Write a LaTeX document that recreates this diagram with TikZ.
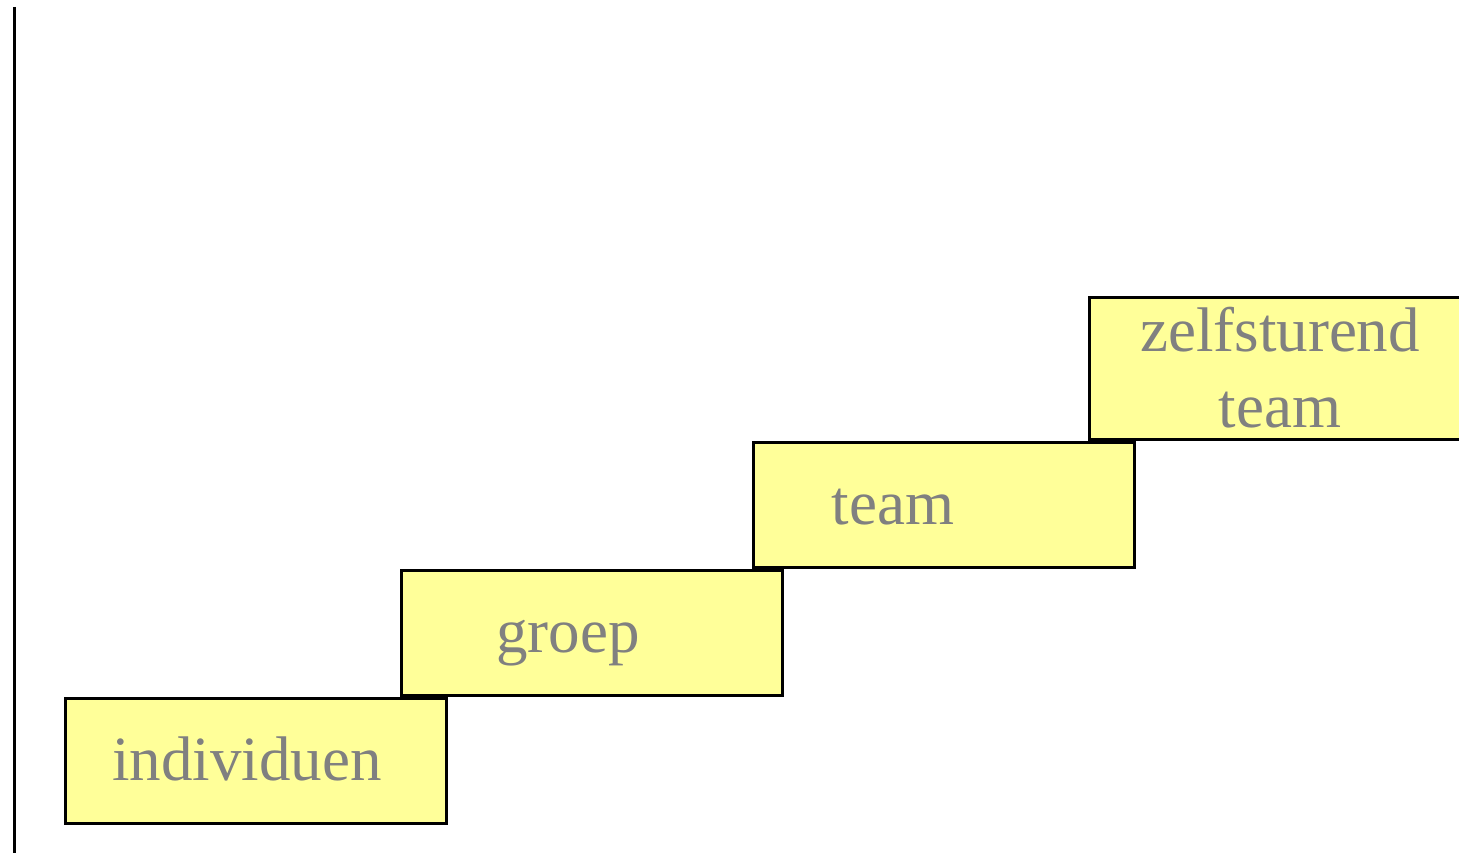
\documentclass[tikz,border=0pt]{standalone}
\usepackage{fontspec}
\setmainfont{Liberation Serif}
\definecolor{boxfill}{HTML}{FFFF99}
\definecolor{txtgray}{HTML}{808080}
\begin{document}
\begin{tikzpicture}[x=1pt,y=-1pt,
  stepbox/.style={draw=black,line width=3pt,fill=boxfill,rectangle,inner sep=0pt,anchor=north west},
  label/.style={text=txtgray,font=\fontsize{63}{76}\selectfont,anchor=base,inner sep=0pt}]
\useasboundingbox (0,0) rectangle (1459,853);
\fill[white] (0,0) rectangle (1459,853);
\draw[line width=3pt] (14.5,7) coordinate (axtop) -- (14.5,853) coordinate (axbot);
\node[stepbox,minimum width=381pt,minimum height=125pt] (b1) at (64,697) {};
\node[stepbox,minimum width=381pt,minimum height=125pt] (b2) at (400,569) {};
\node[stepbox,minimum width=381pt,minimum height=125pt] (b3) at (752,441) {};
\node[stepbox,minimum width=400pt,minimum height=142pt] (b4) at (1088,296) {};
\node[label] (t1) at (247,780) {individuen};
\node[label] (t2) at (568,652) {groep};
\node[label] (t3) at (893,524) {team};
\node[label] (t4a) at (1280,351) {zelfsturend};
\node[label] (t4b) at (1280,427) {team};
\end{tikzpicture}
\end{document}
